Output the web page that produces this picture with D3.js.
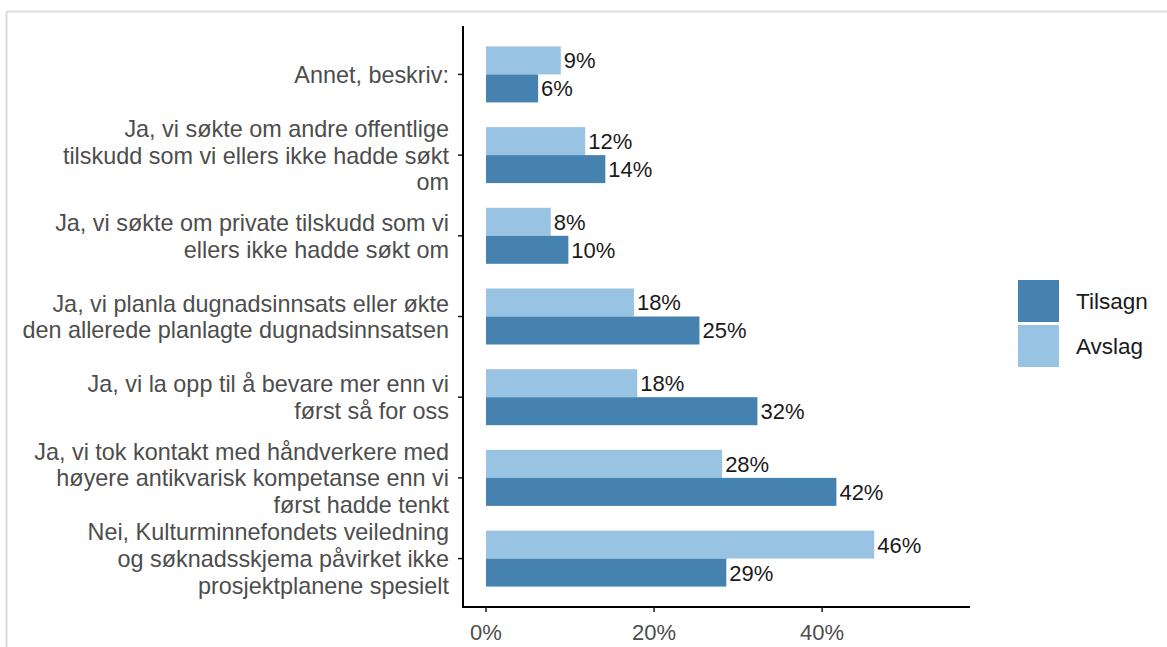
<!DOCTYPE html>
<html>
<head>
<meta charset="utf-8">
<script src="https://cdn.jsdelivr.net/npm/d3@7"></script>
<style>
  body { margin: 0; background: #fff; }
  svg text { font-family: "Liberation Sans", Arial, sans-serif; }
</style>
</head>
<body>
<div id="chart"></div>
<script>

// categories, top to bottom, each split in the lines shown on the axis
var categories = [
  ["Annet, beskriv:"],
  ["Ja, vi søkte om andre offentlige", "tilskudd som vi ellers ikke hadde søkt", "om"],
  ["Ja, vi søkte om private tilskudd som vi", "ellers ikke hadde søkt om"],
  ["Ja, vi planla dugnadsinnsats eller økte", "den allerede planlagte dugnadsinnsatsen"],
  ["Ja, vi la opp til å bevare mer enn vi", "først så for oss"],
  ["Ja, vi tok kontakt med håndverkere med", "høyere antikvarisk kompetanse enn vi", "først hadde tenkt"],
  ["Nei, Kulturminnefondets veiledning", "og søknadsskjema påvirket ikke", "prosjektplanene spesielt"]
];

var tilsagn = [0.062, 0.142, 0.098, 0.254, 0.323, 0.417, 0.286];
var avslag  = [0.089, 0.118, 0.077, 0.176, 0.180, 0.281, 0.462];

var seriesNames = ["Tilsagn", "Avslag"];
var seriesColors = ["#4682b0", "#99c3e3"];
var xTicks = [0, 0.2, 0.4];

var W = 1167, H = 647;
var pct = d3.format(".0%");

var svg = d3.select("#chart").append("svg")
    .attr("width", W)
    .attr("height", H);

// panel frame (screenshot border)
svg.append("line").attr("x1", 6.5).attr("x2", 6.5).attr("y1", 11.5).attr("y2", H)
    .attr("stroke", "#dcdcdc").attr("stroke-width", 2);
svg.append("line").attr("x1", 6.5).attr("x2", W).attr("y1", 11.5).attr("y2", 11.5)
    .attr("stroke", "#dcdcdc").attr("stroke-width", 2);

var x = d3.scaleLinear()
    .domain([-0.0274, 0.576])
    .range([463, 970]);

// category positions, ggplot style discrete expansion
var y = d3.scaleLinear()
    .domain([0.4, categories.length + 0.6])
    .range([26, 607]);

var barH = 28;

var g = svg.append("g");

categories.forEach(function (lines, i) {
  var cy = y(i + 1);

  // Avslag on top, Tilsagn below
  g.append("rect")
    .attr("x", x(0))
    .attr("y", cy - barH)
    .attr("width", x(avslag[i]) - x(0))
    .attr("height", barH)
    .attr("fill", seriesColors[1]);

  g.append("rect")
    .attr("x", x(0))
    .attr("y", cy)
    .attr("width", x(tilsagn[i]) - x(0))
    .attr("height", barH)
    .attr("fill", seriesColors[0]);

  g.append("text")
    .attr("x", x(avslag[i]) + 3)
    .attr("y", cy - barH / 2)
    .attr("dy", "0.36em")
    .attr("fill", "#1a1a1a")
    .style("font-size", "22px")
    .text(pct(Math.round(avslag[i] * 100) / 100));

  g.append("text")
    .attr("x", x(tilsagn[i]) + 3)
    .attr("y", cy + barH / 2)
    .attr("dy", "0.36em")
    .attr("fill", "#1a1a1a")
    .style("font-size", "22px")
    .text(pct(Math.round(tilsagn[i] * 100) / 100));

  // category label
  var lh = 26.8;
  var t = g.append("text")
    .attr("text-anchor", "end")
    .attr("fill", "#4d4d4d")
    .style("font-size", "23.4px");
  lines.forEach(function (l, k) {
    t.append("tspan")
      .attr("x", 449)
      .attr("y", cy + (k - (lines.length - 1) / 2) * lh)
      .attr("dy", "0.36em")
      .text(l);
  });

  // y tick
  g.append("line")
    .attr("x1", 458).attr("x2", 463)
    .attr("y1", cy).attr("y2", cy)
    .attr("stroke", "#1a1a1a").attr("stroke-width", 1.5);
});

// axes lines
g.append("line")
  .attr("x1", 463).attr("x2", 463)
  .attr("y1", y.range()[0]).attr("y2", y.range()[1])
  .attr("stroke", "#000").attr("stroke-width", 2);

g.append("line")
  .attr("x1", 462).attr("x2", x.range()[1])
  .attr("y1", y.range()[1]).attr("y2", y.range()[1])
  .attr("stroke", "#000").attr("stroke-width", 2);

xTicks.forEach(function (v) {
  g.append("line")
    .attr("x1", x(v)).attr("x2", x(v))
    .attr("y1", y.range()[1]).attr("y2", y.range()[1] + 5)
    .attr("stroke", "#1a1a1a").attr("stroke-width", 1.5);
  g.append("text")
    .attr("x", x(v))
    .attr("y", 632)
    .attr("dy", "0.36em")
    .attr("text-anchor", "middle")
    .attr("fill", "#4d4d4d")
    .style("font-size", "22px")
    .text(pct(v));
});

// legend
var legend = svg.append("g").attr("transform", "translate(1018,280)");
seriesNames.forEach(function (name, i) {
  legend.append("rect")
    .attr("x", 0)
    .attr("y", i * 45)
    .attr("width", 41)
    .attr("height", 42)
    .attr("fill", seriesColors[i]);
  legend.append("text")
    .attr("x", 58)
    .attr("y", i * 45 + 21)
    .attr("dy", "0.36em")
    .attr("fill", "#1a1a1a")
    .style("font-size", "22.5px")
    .text(name);
});

</script>
</body>
</html>
